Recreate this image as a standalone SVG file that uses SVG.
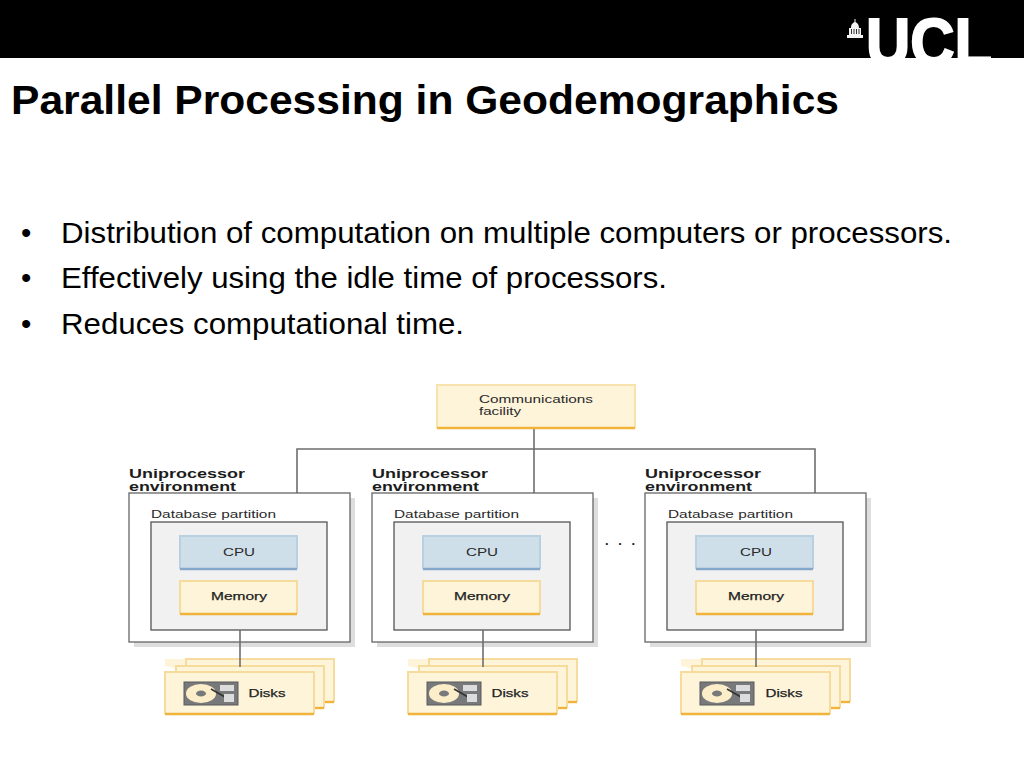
<svg xmlns="http://www.w3.org/2000/svg" xmlns:xlink="http://www.w3.org/1999/xlink" width="1024" height="768" viewBox="0 0 1024 768">
<style>
text{font-family:"Liberation Sans",Arial,sans-serif;}
.title{font-size:41px;font-weight:700;fill:#000}
.body{font-size:29.5px;fill:#000}
.env{font-size:13px;font-weight:700;fill:#1c1c1c}
.lab{font-size:11.5px;fill:#2a2a2a}
.lab2{font-size:11.5px;fill:#222;stroke:#222;stroke-width:.25}
.line{fill:none;stroke:#6e6e6e;stroke-width:1.6}
.envbox{fill:#fff;stroke:#666;stroke-width:1.3}
.shadow{fill:#dedede}
.part{fill:#f1f1f1;stroke:#555;stroke-width:1.3}
.y{fill:#fdf4da}
.ye{fill:none;stroke:#f6dc9c;stroke-width:2}
.yb{fill:none;stroke:#f0b43c;stroke-width:2.4}
</style>
<defs>
<g id="unit">
<rect class="shadow" x="5" y="5" width="221" height="149"/>
<rect class="envbox" x="0" y="0" width="221" height="149"/>
<rect class="part" x="22" y="29" width="176" height="108"/>
<rect x="51" y="43" width="117" height="33" fill="#cfdfe9"/>
<path d="M51 76V43H168V76" fill="none" stroke="#b9d0e0" stroke-width="2"/>
<path d="M51 76H168" fill="none" stroke="#86a9cb" stroke-width="2.4"/>
<rect class="y" x="51" y="88" width="117" height="33"/>
<path class="ye" d="M51 121V88H168V121"/>
<path class="yb" d="M51 121H168"/>
<path d="M36 173V166H206V209H196" class="y"/>
<path class="y" d="M57 166H206V209H57Z"/>
<path class="ye" d="M57 173V166H205V209"/>
<path class="yb" d="M195 209H205"/>
<path class="y" d="M47 173H195V215H47Z"/>
<path class="ye" d="M47 179V173H195V215"/>
<path class="yb" d="M185 215H195"/>
<rect class="y" x="36" y="179" width="149" height="42"/>
<path class="ye" d="M36 221V179H185V221"/>
<path class="yb" d="M36 221H185"/>
<rect x="55" y="189" width="54" height="23" fill="#77797b" stroke="#5a5a5a"/>
<ellipse cx="72" cy="200.500" rx="15" ry="9.500" fill="#fbeec8"/>
<ellipse cx="72" cy="200.500" rx="5" ry="3" fill="#77797b"/>
<path d="M82 196L96 204" stroke="#333" stroke-width="1.500"/>
<rect x="91" y="192" width="14" height="6" fill="#dcdcdc"/>
<rect x="95" y="201" width="10" height="8" fill="#dcdcdc"/>
<path class="line" d="M111 137V174"/>
</g>
</defs>
<rect id="band" x="0" y="0" width="1024" height="58" fill="#000"/>
<g id="logo">
<svg x="840" y="0" width="170" height="58" viewBox="840 0 170 58">
<text x="866" y="65" font-size="66" font-weight="700" fill="#fff" stroke="#fff" stroke-width="2" textLength="126" lengthAdjust="spacingAndGlyphs">UCL</text>
</svg>
<path fill="#f4f4f4" d="M847 38V35H849V28H851C851 24 853 23 854.500 22V19H855.500V22C857 23 859 24 859 28H861V35H863V38Z"/>
<path stroke="#000" stroke-width=".8" d="M851.500 29V34M854 29V34M856.500 29V34M859 29V34"/>
</g>
<text class="title" x="11" y="114" textLength="828" lengthAdjust="spacingAndGlyphs">Parallel Processing in Geodemographics</text>
<g id="bullets">
<text class="body" x="21" y="243">•</text>
<text class="body" x="61" y="243" textLength="891" lengthAdjust="spacingAndGlyphs">Distribution of computation on multiple computers or processors.</text>
<text class="body" x="21" y="288">•</text>
<text class="body" x="61" y="288" textLength="606" lengthAdjust="spacingAndGlyphs">Effectively using the idle time of processors.</text>
<text class="body" x="21" y="334">•</text>
<text class="body" x="61" y="334" textLength="403" lengthAdjust="spacingAndGlyphs">Reduces computational time.</text>
</g>
<g id="connectors">
<path class="line" d="M534 428V493M297 493V449H815V493"/>
</g>
<g id="comm">
<rect x="437" y="385" width="198" height="43" fill="#fdf4da"/>
<path d="M437 428V385H635V428" fill="none" stroke="#f8e3ae" stroke-width="2"/>
<path class="yb" d="M437 428H635"/>
<text class="lab" x="479" y="403" textLength="114" lengthAdjust="spacingAndGlyphs">Communications</text>
<text class="lab" x="479" y="415" textLength="42" lengthAdjust="spacingAndGlyphs">facility</text>
</g>
<g id="unit1">
<use href="#unit" x="129" y="493"/>
<text class="env" x="129" y="478" textLength="116" lengthAdjust="spacingAndGlyphs">Uniprocessor</text>
<text class="env" x="129" y="491" textLength="107" lengthAdjust="spacingAndGlyphs">environment</text>
<text class="lab" x="151" y="518" textLength="125" lengthAdjust="spacingAndGlyphs">Database partition</text>
<text class="lab" x="239" y="556" text-anchor="middle" textLength="32" lengthAdjust="spacingAndGlyphs">CPU</text>
<text class="lab2" x="239" y="600" text-anchor="middle" textLength="56" lengthAdjust="spacingAndGlyphs">Memory</text>
<text class="lab2" x="267" y="697" text-anchor="middle" textLength="37" lengthAdjust="spacingAndGlyphs">Disks</text>
</g>
<g id="unit2">
<use href="#unit" x="372" y="493"/>
<text class="env" x="372" y="478" textLength="116" lengthAdjust="spacingAndGlyphs">Uniprocessor</text>
<text class="env" x="372" y="491" textLength="107" lengthAdjust="spacingAndGlyphs">environment</text>
<text class="lab" x="394" y="518" textLength="125" lengthAdjust="spacingAndGlyphs">Database partition</text>
<text class="lab" x="482" y="556" text-anchor="middle" textLength="32" lengthAdjust="spacingAndGlyphs">CPU</text>
<text class="lab2" x="482" y="600" text-anchor="middle" textLength="56" lengthAdjust="spacingAndGlyphs">Memory</text>
<text class="lab2" x="510" y="697" text-anchor="middle" textLength="37" lengthAdjust="spacingAndGlyphs">Disks</text>
</g>
<g id="unit3">
<use href="#unit" x="645" y="493"/>
<text class="env" x="645" y="478" textLength="116" lengthAdjust="spacingAndGlyphs">Uniprocessor</text>
<text class="env" x="645" y="491" textLength="107" lengthAdjust="spacingAndGlyphs">environment</text>
<text class="lab" x="668" y="518" textLength="125" lengthAdjust="spacingAndGlyphs">Database partition</text>
<text class="lab" x="756" y="556" text-anchor="middle" textLength="32" lengthAdjust="spacingAndGlyphs">CPU</text>
<text class="lab2" x="756" y="600" text-anchor="middle" textLength="56" lengthAdjust="spacingAndGlyphs">Memory</text>
<text class="lab2" x="784" y="697" text-anchor="middle" textLength="37" lengthAdjust="spacingAndGlyphs">Disks</text>
</g>
<text class="env" x="605" y="545" textLength="30" lengthAdjust="spacing">...</text>
</svg>
